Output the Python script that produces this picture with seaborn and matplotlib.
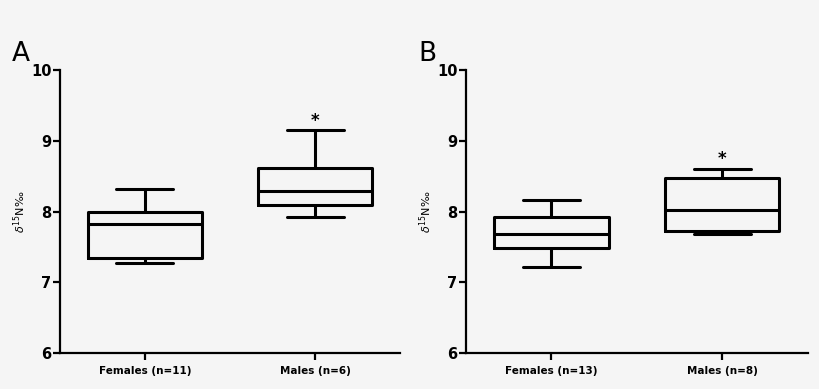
import numpy as np
import pandas as pd
import matplotlib
matplotlib.use("Agg")
import matplotlib.pyplot as plt
import seaborn as sns

# five-number summaries: min, Q1, median, Q3, max
groups_a = ['Females (n=11)', 'Males (n=6)']
females_a = [7.27, 7.34, 7.82, 8.00, 8.32]
males_a = [7.92, 8.09, 8.29, 8.62, 9.15]

groups_b = ['Females (n=13)', 'Males (n=8)']
females_b = [7.22, 7.49, 7.69, 7.93, 8.16]
males_b = [7.69, 7.72, 8.02, 8.47, 8.60]

star_a = 9.28
star_b = 8.74

bg = '#f5f5f5'
sns.set_style('ticks')
plt.rcParams['font.family'] = ['DejaVu Sans']
plt.rcParams['text.color'] = 'black'
plt.rcParams['xtick.color'] = 'black'
plt.rcParams['ytick.color'] = 'black'
plt.rcParams['axes.labelcolor'] = 'black'
plt.rcParams['axes.edgecolor'] = 'black'

fig = plt.figure(figsize=(8.2, 3.89), dpi=100, facecolor=bg)
ax_a = fig.add_axes([0.073, 0.0925, 0.415, 0.727])
ax_b = fig.add_axes([0.568, 0.0925, 0.417, 0.727])

panels = [
    (ax_a, groups_a, females_a, males_a, star_a, 'A'),
    (ax_b, groups_b, females_b, males_b, star_b, 'B'),
]

line = dict(color='black', linewidth=2.2)
for ax, groups, fem, mal, star, letter in panels:
    df = pd.DataFrame({
        'group': [groups[0]] * len(fem) + [groups[1]] * len(mal),
        'value': fem + mal,
    })
    sns.boxplot(data=df, x='group', y='value', order=groups, ax=ax,
                whis=(0, 100), width=0.67, fill=False, color='black',
                linewidth=2.2, boxprops=line, whiskerprops=line,
                capprops=line, medianprops=line, showfliers=False)
    ax.set_facecolor(bg)
    ax.set_xlim(-0.5, 1.5)
    ax.set_ylim(6, 10)
    ax.set_yticks([6, 7, 8, 9, 10])
    ax.set_xlabel('')
    ax.set_ylabel(r'$\delta^{15}$N‰', fontsize=8, labelpad=2)
    for s in ['top', 'right']:
        ax.spines[s].set_visible(False)
    for s in ['left', 'bottom']:
        ax.spines[s].set_linewidth(1.6)
    ax.tick_params(axis='both', width=1.6, length=5, direction='out')
    ax.tick_params(axis='y', labelsize=10.5, pad=1)
    ax.tick_params(axis='x', labelsize=7.5, pad=4)
    for t in ax.get_yticklabels() + ax.get_xticklabels():
        t.set_fontweight('bold')
    ax.text(1, star, '*', ha='center', va='center', fontsize=12,
            fontweight='bold')
    ax.text(-0.14, 1.01, letter, transform=ax.transAxes, fontsize=19,
            ha='left', va='bottom')

fig.savefig('out.png', dpi=100, facecolor=bg)
